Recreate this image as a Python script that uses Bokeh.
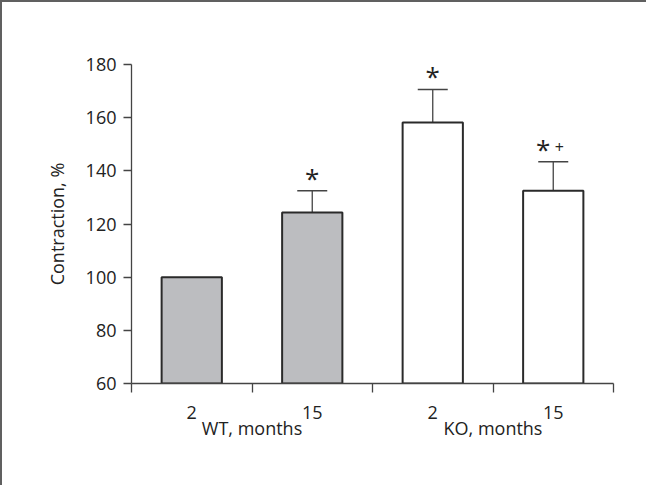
from bokeh.plotting import figure
from bokeh.models import (ColumnDataSource, FixedTicker, LinearAxis, Range1d,
                          Whisker, TeeHead, LabelSet)
from bokeh.core.properties import value
from bokeh.embed import file_html
from bokeh.resources import INLINE

# ---- data ----
groups = ["WT, months", "WT, months", "KO, months", "KO, months"]
ages = ["2", "15", "2", "15"]
means = [100.0, 124.3, 158.2, 132.5]
errors = [0.0, 8.2, 12.4, 10.9]
stars = ["", "*", "*", "*"]
plus_marks = ["", "", "", "+"]
y_ticks = [60, 80, 100, 120, 140, 160, 180]

FONT = "Open Sans"
TXT = "#222222"
AX = "#444444"

xs = [i + 0.5 for i in range(len(means))]
fills = ["#bcbdc0" if g.startswith("WT") else "#ffffff" for g in groups]

p = figure(width=646, height=485, x_range=Range1d(0, len(means)),
           y_range=Range1d(60, 180), output_backend="svg",
           toolbar_location=None, min_border_left=129, min_border_right=35,
           min_border_top=62, min_border_bottom=104)
p.styles = {"border-top": "2px solid #606060", "border-left": "2px solid #606060"}
p.grid.grid_line_color = None
p.outline_line_color = None
p.background_fill_color = "white"

bars = ColumnDataSource(dict(x=xs, top=means, fill=fills))
p.vbar(x="x", top="top", bottom=60, width=0.5, source=bars,
       fill_color="fill", line_color="#2a2a2a", line_width=2)

ex = [x for x, e in zip(xs, errors) if e > 0]
lo = [m for m, e in zip(means, errors) if e > 0]
hi = [m + e for m, e in zip(means, errors) if e > 0]
err = ColumnDataSource(dict(x=ex, lower=lo, upper=hi))
w = Whisker(base="x", lower="lower", upper="upper", source=err,
            dimension="height", line_color=AX, line_width=1.3,
            upper_head=TeeHead(size=30, line_color=AX, line_width=1.5),
            lower_head=None)
p.add_layout(w)

tops = [m + e for m, e in zip(means, errors)]
star_dx = [-10 if pm else 0 for pm in plus_marks]
sig = ColumnDataSource(dict(x=xs, y=tops, star=stars, plus=plus_marks, dx=star_dx))
p.add_layout(LabelSet(x="x", y="y", text="star", source=sig, x_offset="dx",
                      y_offset=-5, text_font=value(FONT),
                      text_font_size=value("26px"),
                      text_color=TXT, text_align="center",
                      text_baseline="bottom"))
p.add_layout(LabelSet(x="x", y="y", text="plus", source=sig, x_offset=6,
                      y_offset=9, text_font=value(FONT),
                      text_font_size=value("16px"),
                      text_color=TXT, text_align="center",
                      text_baseline="bottom"))

# x axis: ticks at category boundaries, labels at centres
xa = p.xaxis[0]
xa.ticker = FixedTicker(ticks=xs, minor_ticks=list(range(len(means) + 1)))
xa.major_label_overrides = {x: a for x, a in zip(xs, ages)}
xa.major_tick_line_color = None
xa.minor_tick_out = 9
xa.minor_tick_in = 0
xa.minor_tick_line_color = AX
xa.minor_tick_line_width = 1.3
xa.axis_line_color = AX
xa.axis_line_width = 1.3
xa.major_label_standoff = 13
xa.major_label_text_font = FONT
xa.major_label_text_font_size = "18px"
xa.major_label_text_color = TXT

group_names = []
group_pos = []
for g in groups:
    if g not in group_names:
        group_names.append(g)
for g in group_names:
    idx = [i for i, gg in enumerate(groups) if gg == g]
    group_pos.append(sum(xs[i] for i in idx) / len(idx))
ga = LinearAxis(ticker=FixedTicker(ticks=group_pos, minor_ticks=[]),
                major_label_overrides={x: g for x, g in zip(group_pos, group_names)},
                axis_line_color=None, major_tick_line_color=None,
                minor_tick_line_color=None, major_tick_out=0, major_tick_in=0,
                major_label_standoff=-6, major_label_text_font=FONT,
                major_label_text_font_size="18px", major_label_text_color=TXT)
p.add_layout(ga, "below")

ya = p.yaxis[0]
ya.ticker = FixedTicker(ticks=y_ticks, minor_ticks=[])
ya.major_tick_out = 8
ya.major_tick_in = 0
ya.major_tick_line_color = AX
ya.major_tick_line_width = 1.3
ya.axis_line_color = AX
ya.axis_line_width = 1.3
ya.major_label_standoff = 7
ya.major_label_text_font = FONT
ya.major_label_text_font_size = "18px"
ya.major_label_text_color = TXT
ya.axis_label = "Contraction, %"
ya.axis_label_standoff = 14
ya.axis_label_text_font = FONT
ya.axis_label_text_font_size = "18px"
ya.axis_label_text_font_style = "normal"
ya.axis_label_text_color = TXT

open("out.html", "w").write(file_html(p, INLINE))
